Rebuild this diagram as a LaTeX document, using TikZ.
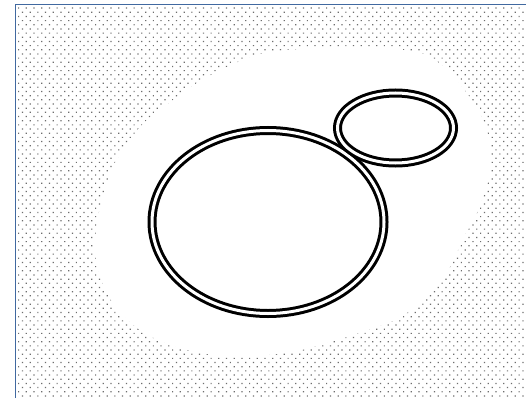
\documentclass[tikz,border=0pt]{standalone}
\usetikzlibrary{calc}
\definecolor{framec}{RGB}{65,105,160}
\definecolor{dotc}{RGB}{110,110,110}
\tikzset{
  ringline/.style={draw=black, line width=3pt, double=white, double distance=3pt},
}
\begin{document}
\begin{tikzpicture}[x=1pt,y=-1pt]
\useasboundingbox (0,0) rectangle (526,398);
\fill[white] (0,0) rectangle (526,398);
% dotted background
\begin{scope}
\clip (16,5) rectangle (526,398);
\foreach \j in {0,...,94} {
  \pgfmathsetmacro\yy{7.5+\j*4.17}
  \pgfmathsetmacro\xo{mod(\j,2)*3.85}
  \fill[dotc] \foreach \i in {0,...,67} { ({18+\xo+\i*7.7},\yy) rectangle ++(1.2,1.2) };
}
\end{scope}
% white blob
\fill[white] plot[smooth cycle, tension=0.6] coordinates {
 (300,49) (360,47) (410,51) (435,60) (463,88) (485,125) (491,165) (480,205)
 (465,235) (443,278) (412,309) (385,324) (333,341) (285,353) (225,356)
 (180,348) (150,336) (130,322) (112,302) (98,270) (95,240) (102,200)
 (113,167) (130,140) (147,120) (173,100) (197,83) (227,67) (260,54)};
% frame
\draw[framec, line width=1.8pt] (15.5,398) -- (15.5,4.5) -- (526,4.5);
% ellipses
\draw[ringline] (268,222) ellipse [x radius=116, y radius=91.5];
\draw[ringline] (395.5,128) ellipse [x radius=58, y radius=35];
\end{tikzpicture}
\end{document}
